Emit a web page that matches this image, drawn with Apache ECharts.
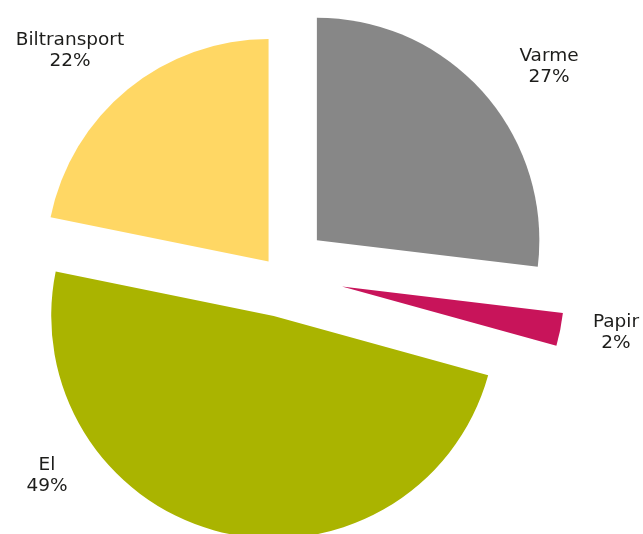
<!DOCTYPE html>
<html><head><meta charset="utf-8">
<script src="https://cdn.jsdelivr.net/npm/echarts@6/dist/echarts.min.js"></script>
<style>html,body{margin:0;padding:0;background:#fff}#c{width:643px;height:534px}</style>
</head><body><div id="c"></div>
<script>
const categories = ['Varme', 'Papir', 'El', 'Biltransport'];
const shares = [26.9, 2.4, 48.9, 21.8];

// styling / layout (not data)
const colors = ['#878787', '#c8145a', '#aab400', '#ffd764'];
const explode = [51, 64.5, 40.6, 16];
const centerShift = [[0, 0], [0, 0], [4.5, 2.5], [0, 0]];
const center = [278.7, 274];
const radius = 222.5;
const labelAnchors = {Varme: [549, 67], Papir: [616, 333], El: [47, 476], Biltransport: [70, 51]};

const chart = echarts.init(document.getElementById('c'), null, {renderer: 'canvas'});

const base = {
  type: 'pie', radius: radius, startAngle: 90, clockwise: true,
  silent: true, animation: false, avoidLabelOverlap: false,
  labelLine: {show: false}, emphasis: {disabled: true}
};

const series = categories.map((cat, k) => Object.assign({}, base, {
  center: [center[0] + centerShift[k][0], center[1] + centerShift[k][1]],
  selectedMode: 'multiple',
  selectedOffset: explode[k],
  label: {show: false},
  data: categories.map((c, i) => ({
    name: c, value: shares[i], selected: i === k,
    itemStyle: {color: i === k ? colors[i] : 'rgba(0,0,0,0)', borderWidth: 0}
  }))
}));

series.push(Object.assign({}, base, {
  center: center,
  selectedMode: false,
  label: {
    show: true, position: 'outside',
    formatter: p => p.name + '\n' + Math.round(p.value) + '%',
    fontFamily: 'DejaVu Sans', fontSize: 18.5, lineHeight: 21, color: '#1d1d1b', align: 'center'
  },
  labelLayout: function (params) {
    const a = labelAnchors[categories[params.dataIndex]];
    return {x: a[0], y: a[1], align: 'center', verticalAlign: 'middle'};
  },
  data: categories.map((c, i) => ({
    name: c, value: shares[i],
    itemStyle: {color: 'rgba(0,0,0,0)', borderWidth: 0}
  }))
}));

chart.setOption({backgroundColor: '#ffffff', series: series});
</script>
</body></html>
